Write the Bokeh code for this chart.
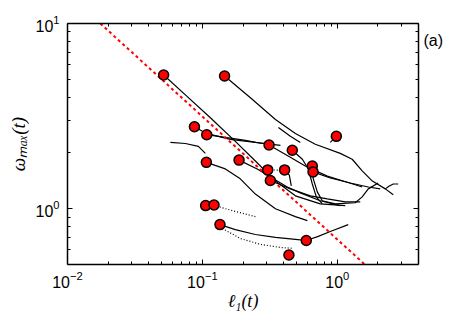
from bokeh.plotting import figure
from bokeh.models import (LogAxis, FixedTicker, CustomJSTickFormatter, Range1d)
from bokeh.embed import file_html
from bokeh.resources import INLINE

# ---------------- data ----------------
x_major = [0.01, 0.1, 1.0]
x_minor = [0.02, 0.03, 0.04, 0.05, 0.06, 0.07, 0.08, 0.09,
           0.2, 0.3, 0.4, 0.5, 0.6, 0.7, 0.8, 0.9, 2.0, 3.0, 4.0]
y_major = [1.0, 10.0]
y_minor = [0.6, 0.7, 0.8, 0.9, 2.0, 3.0, 4.0, 5.0, 6.0, 7.0, 8.0, 9.0]
tag_pos = [8.1]
tag_text = "(a)"
x_title = "\u2113\u2081(t)"
y_title = "\u03c9\u2098\u2090\u2093(t)"

# starting points (red circles)
start_x = [0.0516, 0.146, 0.0873, 0.1077, 0.984, 0.312, 0.464, 0.107, 0.187, 0.305,
           0.407, 0.653, 0.661, 0.319, 0.1057, 0.122, 0.135, 0.589, 0.438]
start_y = [5.27, 5.21, 2.77, 2.51, 2.46, 2.21, 2.07, 1.78, 1.83, 1.62,
           1.62, 1.70, 1.58, 1.42, 1.04, 1.047, 0.821, 0.674, 0.563]

# reference scaling line  omega ~ l^(-2/3)
guide_x = [0.0175, 1.6]
guide_y = [10.0, 0.5]

# trajectories (solid)
tr01_x = [0.0516, 0.0748, 0.1146, 0.1754, 0.247, 0.348, 0.489, 0.748, 1.146]
tr01_y = [5.27, 4.12, 3.10, 2.31, 1.81, 1.41, 1.174, 1.063, 1.04]
tr02_x = [0.146, 0.227, 0.348, 0.489, 0.687, 1.052, 1.29, 1.53, 1.82, 2.27, 2.60]
tr02_y = [5.21, 3.97, 3.03, 2.55, 2.23, 1.99, 1.85, 1.60, 1.41, 1.28, 1.19]
tr03_x = [0.0873, 0.107, 0.161, 0.247, 0.379]
tr03_y = [2.77, 2.55, 2.37, 2.28, 2.20]
tr04_x = [0.1077, 0.148, 0.208, 0.278]
tr04_y = [2.51, 2.43, 2.34, 2.25]
trL_x = [0.0579, 0.0748, 0.0934, 0.0983, 0.1052]
trL_y = [2.28, 2.25, 2.17, 2.09, 1.99]
tr05_x = [0.984, 0.887]
tr05_y = [2.46, 2.28]
tr06_x = [0.312, 0.426, 0.579, 0.843, 1.186, 1.53]
tr06_y = [2.21, 1.94, 1.70, 1.50, 1.39, 1.31]
tr07_x = [0.464, 0.551, 0.610, 0.653, 0.699, 0.774]
tr07_y = [2.07, 1.85, 1.64, 1.36, 1.159, 1.063]
tr08_x = [0.107, 0.148, 0.191, 0.247, 0.348, 0.489, 0.600]
tr08_y = [1.78, 1.64, 1.45, 1.20, 1.0, 0.906, 0.863]
tr09_x = [0.187, 0.255, 0.336, 0.426, 0.532, 0.748, 1.052]
tr09_y = [1.83, 1.64, 1.45, 1.31, 1.218, 1.104, 1.04]
tr11_x = [0.407, 0.441, 0.456]
tr11_y = [1.62, 1.52, 1.327]
tr12_x = [0.653, 0.664, 0.711, 0.774, 0.966, 1.359, 1.53, 1.697, 2.01]
tr12_y = [1.70, 1.45, 1.233, 1.104, 1.063, 1.077, 1.159, 1.28, 1.377]
tr13_x = [0.661, 0.887, 1.248, 1.697, 2.08]
tr13_y = [1.58, 1.465, 1.377, 1.31, 1.28]
tr14_x = [0.319, 0.449, 0.631, 0.843, 1.146, 1.48]
tr14_y = [1.42, 1.28, 1.174, 1.13, 1.09, 1.09]
tr17_x = [0.135, 0.1754, 0.247, 0.348, 0.489, 0.589]
tr17_y = [0.821, 0.772, 0.726, 0.700, 0.683, 0.674]
tr18_x = [0.589, 0.723, 0.887, 1.206]
tr18_y = [0.674, 0.709, 0.753, 0.821]
trLoop_x = [0.366, 0.449, 0.532]
trLoop_y = [2.745, 2.46, 2.28]
trSq_x = [2.27, 2.43, 2.60, 2.83]
trSq_y = [1.28, 1.327, 1.36, 1.36]

# trajectories (sparse / dotted)
tr10_x = [0.305, 0.379]
tr10_y = [1.62, 1.617]
tr16_x = [0.122, 0.148, 0.191, 0.247]
tr16_y = [1.047, 1.0, 0.952, 0.906]
tr17b_x = [0.1406, 0.191, 0.269, 0.379, 0.472]
tr17b_y = [0.782, 0.691, 0.642, 0.618, 0.611]

solid_xs = [tr01_x, tr02_x, tr03_x, tr04_x, trL_x, tr05_x, tr06_x, tr07_x, tr08_x,
            tr09_x, tr11_x, tr12_x, tr13_x, tr14_x, tr17_x, tr18_x, trLoop_x, trSq_x]
solid_ys = [tr01_y, tr02_y, tr03_y, tr04_y, trL_y, tr05_y, tr06_y, tr07_y, tr08_y,
            tr09_y, tr11_y, tr12_y, tr13_y, tr14_y, tr17_y, tr18_y, trLoop_y, trSq_y]
dot_xs = [tr10_x, tr16_x, tr17b_x]
dot_ys = [tr10_y, tr16_y, tr17b_y]

# ---------------- figure ----------------
p = figure(width=463, height=313, x_axis_type="log", y_axis_type="log",
           x_range=Range1d(0.01, 4.0), y_range=Range1d(0.5, 10.0),
           output_backend="svg", toolbar_location=None,
           min_border_left=67, min_border_right=45,
           min_border_top=23, min_border_bottom=47)
p.grid.visible = False
p.outline_line_color = None
p.background_fill_color = "white"
p.border_fill_color = "white"


def style_axis(ax):
    ax.axis_line_color = "black"
    ax.axis_line_width = 1.5
    ax.major_tick_in = 5
    ax.major_tick_out = 0
    ax.minor_tick_in = 3
    ax.minor_tick_out = 0
    ax.major_tick_line_color = "black"
    ax.minor_tick_line_color = "black"
    ax.major_label_text_font = "Liberation Sans"
    ax.major_label_text_font_size = "16px"
    ax.major_label_text_color = "black"
    ax.axis_label_text_font = "Liberation Serif"
    ax.axis_label_text_font_style = "italic"
    ax.axis_label_text_color = "black"


p.xaxis.ticker = FixedTicker(ticks=x_major, minor_ticks=x_minor)
p.yaxis.ticker = FixedTicker(ticks=y_major, minor_ticks=y_minor)
style_axis(p.xaxis[0])
style_axis(p.yaxis[0])
p.xaxis.major_label_standoff = 6
p.yaxis.major_label_standoff = 8
p.xaxis.axis_label = x_title
p.xaxis.axis_label_text_font_size = "18px"
p.xaxis.axis_label_standoff = 0
p.yaxis.axis_label = y_title
p.yaxis.axis_label_text_font_size = "19px"
p.yaxis.axis_label_standoff = 3

top = LogAxis(ticker=FixedTicker(ticks=x_major, minor_ticks=x_minor),
              formatter=CustomJSTickFormatter(code="return ''"))
right = LogAxis(ticker=FixedTicker(ticks=y_major, minor_ticks=y_minor),
                formatter=CustomJSTickFormatter(code="return ''"))
for ax in (top, right):
    style_axis(ax)
    ax.major_label_text_font_size = "1px"
    ax.major_label_standoff = 0
p.add_layout(top, "above")
p.add_layout(right, "right")

# panel tag as the label of an extra right axis
tag_axis = LogAxis(ticker=FixedTicker(ticks=tag_pos, minor_ticks=[]),
                   formatter=CustomJSTickFormatter(code="return '%s'" % tag_text))
tag_axis.axis_line_color = None
tag_axis.major_tick_line_color = None
tag_axis.minor_tick_line_color = None
tag_axis.major_tick_in = 0
tag_axis.major_tick_out = 0
tag_axis.major_label_standoff = 5
tag_axis.major_label_text_font = "Liberation Sans"
tag_axis.major_label_text_font_size = "16px"
tag_axis.major_label_text_color = "black"
p.add_layout(tag_axis, "right")

# curves
p.multi_line(xs=solid_xs, ys=solid_ys, line_color="black", line_width=1.2)
p.multi_line(xs=dot_xs, ys=dot_ys, line_color="black", line_width=1.2, line_dash="1 2")

# scaling line
p.line(guide_x, guide_y, line_color="red", line_width=2, line_dash="3 3")

# start markers
p.scatter(start_x, start_y, size=10, fill_color="red", line_color="black", line_width=1.5)

open("out.html", "w").write(file_html(p, INLINE))
